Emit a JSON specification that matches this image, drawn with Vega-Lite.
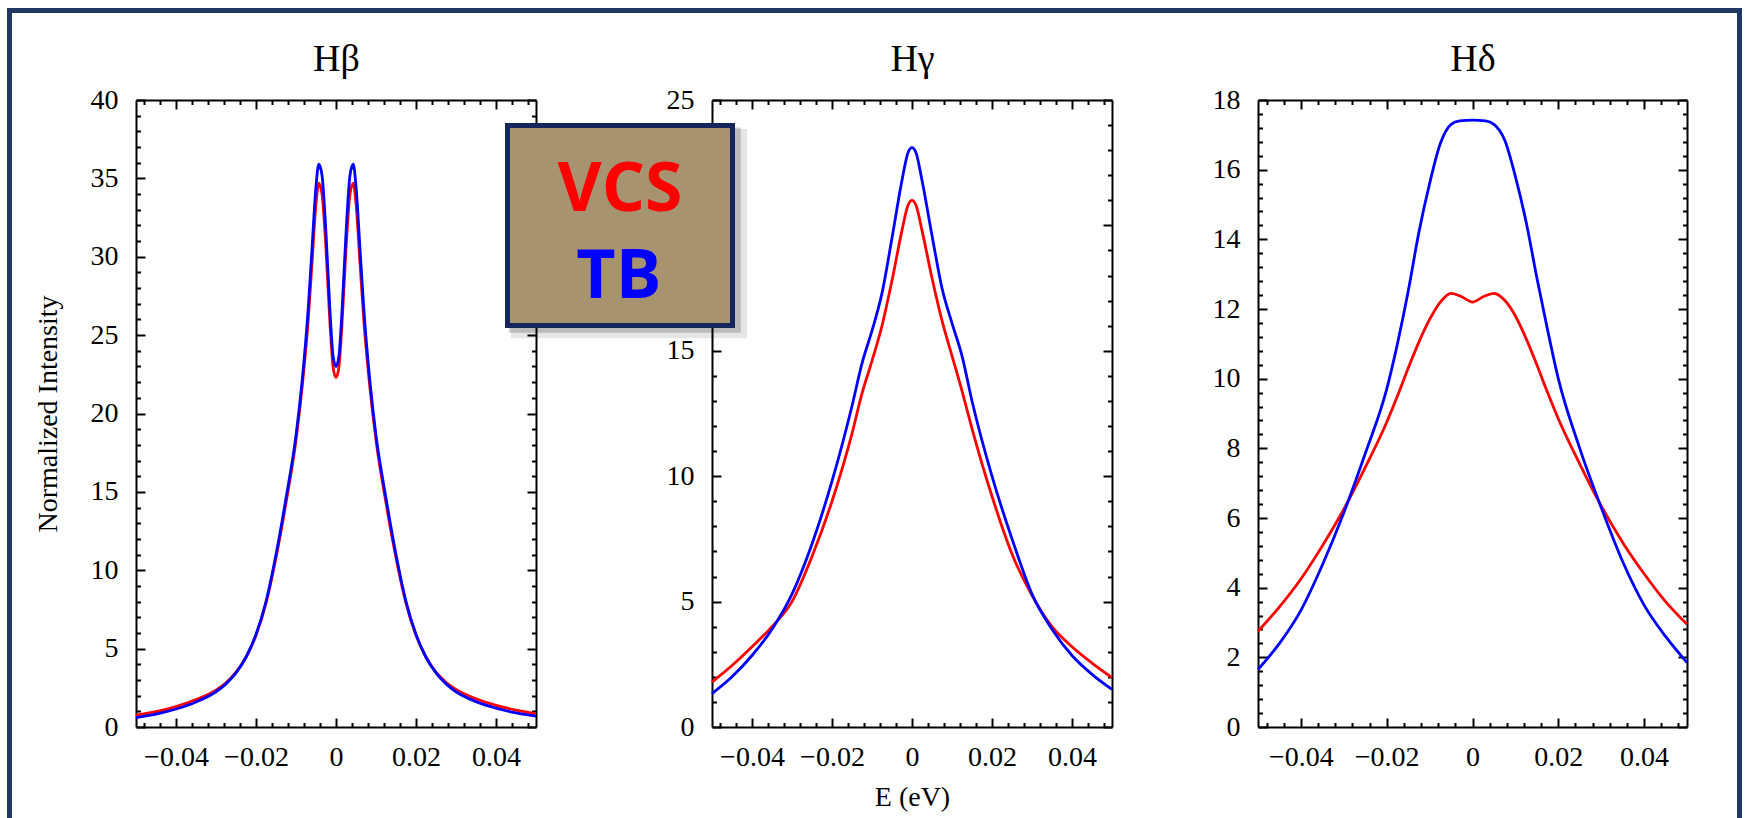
{
  "$schema": "https://vega.github.io/schema/vega-lite/v6.json",
  "background": "white",
  "padding": {"left": 7, "top": 7, "right": 6, "bottom": 0},
  "datasets": {
    "hb": [
      {"m":"VCS","E":-0.05,"I":0.75},{"m":"VCS","E":-0.045,"I":0.98},{"m":"VCS","E":-0.04,"I":1.3},{"m":"VCS","E":-0.035,"I":1.75},{"m":"VCS","E":-0.03,"I":2.35},{"m":"VCS","E":-0.0275,"I":2.82},{"m":"VCS","E":-0.025,"I":3.5},{"m":"VCS","E":-0.0225,"I":4.45},{"m":"VCS","E":-0.02,"I":5.85},{"m":"VCS","E":-0.0175,"I":7.9},{"m":"VCS","E":-0.015,"I":10.8},{"m":"VCS","E":-0.0125,"I":14.3},{"m":"VCS","E":-0.01,"I":18.3},{"m":"VCS","E":-0.0085,"I":21.6},{"m":"VCS","E":-0.007,"I":25.8},{"m":"VCS","E":-0.006,"I":29.6},{"m":"VCS","E":-0.005,"I":33.4},{"m":"VCS","E":-0.0043,"I":34.7},{"m":"VCS","E":-0.0035,"I":34.0},{"m":"VCS","E":-0.0025,"I":30.5},{"m":"VCS","E":-0.0015,"I":25.7},{"m":"VCS","E":-0.0007,"I":22.9},{"m":"VCS","E":0,"I":22.3},
      {"m":"VCS","E":0.0007,"I":22.9},{"m":"VCS","E":0.0015,"I":25.7},{"m":"VCS","E":0.0025,"I":30.5},{"m":"VCS","E":0.0035,"I":34.0},{"m":"VCS","E":0.0043,"I":34.7},{"m":"VCS","E":0.005,"I":33.4},{"m":"VCS","E":0.006,"I":29.6},{"m":"VCS","E":0.007,"I":25.8},{"m":"VCS","E":0.0085,"I":21.6},{"m":"VCS","E":0.01,"I":18.3},{"m":"VCS","E":0.0125,"I":14.3},{"m":"VCS","E":0.015,"I":10.8},{"m":"VCS","E":0.0175,"I":7.9},{"m":"VCS","E":0.02,"I":5.85},{"m":"VCS","E":0.0225,"I":4.45},{"m":"VCS","E":0.025,"I":3.5},{"m":"VCS","E":0.0275,"I":2.85},{"m":"VCS","E":0.03,"I":2.4},{"m":"VCS","E":0.035,"I":1.8},{"m":"VCS","E":0.04,"I":1.38},{"m":"VCS","E":0.045,"I":1.08},{"m":"VCS","E":0.05,"I":0.85},
      {"m":"TB","E":-0.05,"I":0.6},{"m":"TB","E":-0.045,"I":0.82},{"m":"TB","E":-0.04,"I":1.15},{"m":"TB","E":-0.035,"I":1.6},{"m":"TB","E":-0.03,"I":2.25},{"m":"TB","E":-0.0275,"I":2.75},{"m":"TB","E":-0.025,"I":3.45},{"m":"TB","E":-0.0225,"I":4.45},{"m":"TB","E":-0.02,"I":5.9},{"m":"TB","E":-0.0175,"I":8.0},{"m":"TB","E":-0.015,"I":11.0},{"m":"TB","E":-0.0125,"I":14.6},{"m":"TB","E":-0.01,"I":18.6},{"m":"TB","E":-0.0085,"I":22.0},{"m":"TB","E":-0.007,"I":26.5},{"m":"TB","E":-0.006,"I":30.5},{"m":"TB","E":-0.005,"I":34.5},{"m":"TB","E":-0.0043,"I":35.9},{"m":"TB","E":-0.0035,"I":35.2},{"m":"TB","E":-0.0025,"I":31.5},{"m":"TB","E":-0.0015,"I":26.5},{"m":"TB","E":-0.0007,"I":23.6},{"m":"TB","E":0,"I":23.0},
      {"m":"TB","E":0.0007,"I":23.6},{"m":"TB","E":0.0015,"I":26.5},{"m":"TB","E":0.0025,"I":31.5},{"m":"TB","E":0.0035,"I":35.2},{"m":"TB","E":0.0043,"I":35.9},{"m":"TB","E":0.005,"I":34.5},{"m":"TB","E":0.006,"I":30.5},{"m":"TB","E":0.007,"I":26.5},{"m":"TB","E":0.0085,"I":22.0},{"m":"TB","E":0.01,"I":18.6},{"m":"TB","E":0.0125,"I":14.6},{"m":"TB","E":0.015,"I":11.0},{"m":"TB","E":0.0175,"I":8.0},{"m":"TB","E":0.02,"I":5.9},{"m":"TB","E":0.0225,"I":4.45},{"m":"TB","E":0.025,"I":3.45},{"m":"TB","E":0.0275,"I":2.75},{"m":"TB","E":0.03,"I":2.25},{"m":"TB","E":0.035,"I":1.62},{"m":"TB","E":0.04,"I":1.2},{"m":"TB","E":0.045,"I":0.9},{"m":"TB","E":0.05,"I":0.7}
    ],
    "hg": [
      {"m":"VCS","E":-0.05,"I":1.79},{"m":"VCS","E":-0.045,"I":2.45},{"m":"VCS","E":-0.04,"I":3.2},{"m":"VCS","E":-0.035,"I":4.0},{"m":"VCS","E":-0.03,"I":5.0},{"m":"VCS","E":-0.025,"I":6.8},{"m":"VCS","E":-0.02,"I":9.0},{"m":"VCS","E":-0.015,"I":11.7},{"m":"VCS","E":-0.0125,"I":13.3},{"m":"VCS","E":-0.01,"I":14.6},{"m":"VCS","E":-0.0075,"I":16.0},{"m":"VCS","E":-0.005,"I":17.8},{"m":"VCS","E":-0.0025,"I":19.8},{"m":"VCS","E":-0.001,"I":20.8},{"m":"VCS","E":0,"I":21.0},
      {"m":"VCS","E":0.001,"I":20.8},{"m":"VCS","E":0.0025,"I":19.8},{"m":"VCS","E":0.005,"I":17.9},{"m":"VCS","E":0.0075,"I":16.2},{"m":"VCS","E":0.01,"I":14.8},{"m":"VCS","E":0.0125,"I":13.4},{"m":"VCS","E":0.015,"I":11.9},{"m":"VCS","E":0.02,"I":9.2},{"m":"VCS","E":0.025,"I":6.9},{"m":"VCS","E":0.03,"I":5.25},{"m":"VCS","E":0.035,"I":4.0},{"m":"VCS","E":0.04,"I":3.2},{"m":"VCS","E":0.045,"I":2.55},{"m":"VCS","E":0.05,"I":1.97},
      {"m":"TB","E":-0.05,"I":1.33},{"m":"TB","E":-0.045,"I":2.0},{"m":"TB","E":-0.04,"I":2.85},{"m":"TB","E":-0.035,"I":3.9},{"m":"TB","E":-0.03,"I":5.3},{"m":"TB","E":-0.025,"I":7.3},{"m":"TB","E":-0.02,"I":9.8},{"m":"TB","E":-0.015,"I":12.8},{"m":"TB","E":-0.0125,"I":14.5},{"m":"TB","E":-0.01,"I":15.8},{"m":"TB","E":-0.0075,"I":17.3},{"m":"TB","E":-0.005,"I":19.5},{"m":"TB","E":-0.0025,"I":21.8},{"m":"TB","E":-0.001,"I":22.9},{"m":"TB","E":0,"I":23.1},
      {"m":"TB","E":0.001,"I":22.9},{"m":"TB","E":0.0025,"I":21.8},{"m":"TB","E":0.005,"I":19.6},{"m":"TB","E":0.0075,"I":17.5},{"m":"TB","E":0.01,"I":16.1},{"m":"TB","E":0.0125,"I":14.8},{"m":"TB","E":0.015,"I":13.0},{"m":"TB","E":0.02,"I":10.0},{"m":"TB","E":0.025,"I":7.5},{"m":"TB","E":0.03,"I":5.3},{"m":"TB","E":0.035,"I":3.9},{"m":"TB","E":0.04,"I":2.85},{"m":"TB","E":0.045,"I":2.1},{"m":"TB","E":0.05,"I":1.5}
    ],
    "hd": [
      {"m":"VCS","E":-0.05,"I":2.75},{"m":"VCS","E":-0.045,"I":3.45},{"m":"VCS","E":-0.04,"I":4.25},{"m":"VCS","E":-0.035,"I":5.2},{"m":"VCS","E":-0.03,"I":6.25},{"m":"VCS","E":-0.025,"I":7.45},{"m":"VCS","E":-0.02,"I":8.75},{"m":"VCS","E":-0.0175,"I":9.5},{"m":"VCS","E":-0.015,"I":10.3},{"m":"VCS","E":-0.0125,"I":11.05},{"m":"VCS","E":-0.01,"I":11.7},{"m":"VCS","E":-0.0075,"I":12.2},{"m":"VCS","E":-0.005,"I":12.45},{"m":"VCS","E":-0.0025,"I":12.35},{"m":"VCS","E":0,"I":12.2},
      {"m":"VCS","E":0.0025,"I":12.35},{"m":"VCS","E":0.005,"I":12.45},{"m":"VCS","E":0.0075,"I":12.25},{"m":"VCS","E":0.01,"I":11.8},{"m":"VCS","E":0.0125,"I":11.15},{"m":"VCS","E":0.015,"I":10.4},{"m":"VCS","E":0.0175,"I":9.6},{"m":"VCS","E":0.02,"I":8.85},{"m":"VCS","E":0.025,"I":7.55},{"m":"VCS","E":0.03,"I":6.35},{"m":"VCS","E":0.035,"I":5.3},{"m":"VCS","E":0.04,"I":4.4},{"m":"VCS","E":0.045,"I":3.6},{"m":"VCS","E":0.05,"I":2.95},
      {"m":"TB","E":-0.05,"I":1.65},{"m":"TB","E":-0.045,"I":2.4},{"m":"TB","E":-0.04,"I":3.35},{"m":"TB","E":-0.035,"I":4.65},{"m":"TB","E":-0.03,"I":6.15},{"m":"TB","E":-0.025,"I":7.85},{"m":"TB","E":-0.02,"I":9.7},{"m":"TB","E":-0.0175,"I":11.0},{"m":"TB","E":-0.015,"I":12.5},{"m":"TB","E":-0.0125,"I":14.2},{"m":"TB","E":-0.01,"I":15.6},{"m":"TB","E":-0.0075,"I":16.75},{"m":"TB","E":-0.005,"I":17.3},{"m":"TB","E":-0.003,"I":17.4},{"m":"TB","E":0,"I":17.42},
      {"m":"TB","E":0.003,"I":17.4},{"m":"TB","E":0.005,"I":17.3},{"m":"TB","E":0.0075,"I":16.85},{"m":"TB","E":0.01,"I":15.8},{"m":"TB","E":0.0125,"I":14.5},{"m":"TB","E":0.015,"I":12.9},{"m":"TB","E":0.0175,"I":11.4},{"m":"TB","E":0.02,"I":10.0},{"m":"TB","E":0.025,"I":8.0},{"m":"TB","E":0.03,"I":6.3},{"m":"TB","E":0.035,"I":4.75},{"m":"TB","E":0.04,"I":3.5},{"m":"TB","E":0.045,"I":2.6},{"m":"TB","E":0.05,"I":1.85}
    ]
  },
  "spacing": 176,
  "bounds": "flush",
  "hconcat": [
    {
      "width": 400, "height": 627,
      "data": {"name": "hb"},
      "resolve": {"axis": {"x": "independent", "y": "independent"}},
      "layer": [
        {
          "mark": {"type": "line", "interpolate": "monotone", "strokeWidth": 2.8},
          "encoding": {
            "x": {"field": "E", "type": "quantitative", "scale": {"domain": [-0.05, 0.05], "nice": false, "zero": false},
                  "axis": {"orient": "bottom", "values": [-0.04,-0.02,0,0.02,0.04], "format": "~g", "tickSize": -9, "labelPadding": 25, "domain": true, "title": null}},
            "y": {"field": "I", "type": "quantitative", "scale": {"domain": [0, 40], "nice": false, "zero": false},
                  "axis": {"orient": "left", "values": [0,5,10,15,20,25,30,35,40], "format": "d", "tickSize": -9, "labelPadding": 27, "domain": true, "title": "Normalized Intensity", "titlePadding": 28, "titleFontSize": 28}},
            "color": {"field": "m", "type": "nominal", "scale": {"domain": ["VCS", "TB"], "range": ["#ff0000", "#0000ff"]}, "legend": null}
          }
        },
        {
          "mark": {"type": "point", "opacity": 0},
          "encoding": {
            "x": {"field": "E", "type": "quantitative", "axis": {"orient": "bottom", "values": [-0.048,-0.044,-0.036,-0.032,-0.028,-0.024,-0.016,-0.012,-0.008,-0.004,0.004,0.008,0.012,0.016,0.024,0.028,0.032,0.036,0.044,0.048], "tickSize": -4.5, "labels": false, "domain": false, "title": null}},
            "y": {"field": "I", "type": "quantitative", "axis": {"orient": "left", "values": [1,2,3,4,6,7,8,9,11,12,13,14,16,17,18,19,21,22,23,24,26,27,28,29,31,32,33,34,36,37,38,39], "tickSize": -4.5, "labels": false, "domain": false, "title": null}}
          }
        },
        {
          "mark": {"type": "point", "opacity": 0},
          "encoding": {
            "x": {"field": "E", "type": "quantitative", "axis": {"orient": "top", "values": [-0.04,-0.02,0,0.02,0.04], "tickSize": -9, "labels": false, "domain": true, "title": "Hβ", "titleFontSize": 38, "titlePadding": 21}},
            "y": {"field": "I", "type": "quantitative", "axis": {"orient": "right", "values": [0,5,10,15,20,25,30,35,40], "tickSize": -9, "labels": false, "domain": true, "title": null}}
          }
        },
        {
          "mark": {"type": "point", "opacity": 0},
          "encoding": {
            "x": {"field": "E", "type": "quantitative", "axis": {"orient": "top", "values": [-0.048,-0.044,-0.036,-0.032,-0.028,-0.024,-0.016,-0.012,-0.008,-0.004,0.004,0.008,0.012,0.016,0.024,0.028,0.032,0.036,0.044,0.048], "tickSize": -4.5, "labels": false, "domain": false, "title": null}},
            "y": {"field": "I", "type": "quantitative", "axis": {"orient": "right", "values": [1,2,3,4,6,7,8,9,11,12,13,14,16,17,18,19,21,22,23,24,26,27,28,29,31,32,33,34,36,37,38,39], "tickSize": -4.5, "labels": false, "domain": false, "title": null}}
          }
        },
        {
          "data": {"values": [{}]},
          "mark": {"type": "rect", "fill": null, "filled": false, "stroke": "#1f3864", "strokeWidth": 5},
          "encoding": {
            "x": {"datum": -0.081625, "type": "quantitative", "axis": null},
            "x2": {"datum": 0.350875},
            "y": {"datum": 45.71, "type": "quantitative", "axis": null},
            "y2": {"datum": -6.6}
          }
        }
      ]
    },
    {
      "spacing": 146,
      "bounds": "flush",
      "hconcat": [
        {
          "width": 400, "height": 627,
          "data": {"name": "hg"},
          "resolve": {"axis": {"x": "independent", "y": "independent"}},
          "layer": [
            {
              "mark": {"type": "line", "interpolate": "monotone", "strokeWidth": 2.8},
              "encoding": {
                "x": {"field": "E", "type": "quantitative", "scale": {"domain": [-0.05, 0.05], "nice": false, "zero": false},
                      "axis": {"orient": "bottom", "values": [-0.04,-0.02,0,0.02,0.04], "format": "~g", "tickSize": -9, "labelPadding": 25, "domain": true, "title": "E (eV)", "titlePadding": 12}},
                "y": {"field": "I", "type": "quantitative", "scale": {"domain": [0, 25], "nice": false, "zero": false},
                      "axis": {"orient": "left", "values": [0,5,10,15,20,25], "format": "d", "tickSize": -9, "labelPadding": 27, "domain": true, "title": null}},
                "color": {"field": "m", "type": "nominal", "scale": {"domain": ["VCS", "TB"], "range": ["#ff0000", "#0000ff"]}, "legend": null}
              }
            },
            {
              "mark": {"type": "point", "opacity": 0},
              "encoding": {
                "x": {"field": "E", "type": "quantitative", "axis": {"orient": "bottom", "values": [-0.048,-0.044,-0.036,-0.032,-0.028,-0.024,-0.016,-0.012,-0.008,-0.004,0.004,0.008,0.012,0.016,0.024,0.028,0.032,0.036,0.044,0.048], "tickSize": -4.5, "labels": false, "domain": false, "title": null}},
                "y": {"field": "I", "type": "quantitative", "axis": {"orient": "left", "values": [1,2,3,4,6,7,8,9,11,12,13,14,16,17,18,19,21,22,23,24], "tickSize": -4.5, "labels": false, "domain": false, "title": null}}
              }
            },
            {
              "mark": {"type": "point", "opacity": 0},
              "encoding": {
                "x": {"field": "E", "type": "quantitative", "axis": {"orient": "top", "values": [-0.04,-0.02,0,0.02,0.04], "tickSize": -9, "labels": false, "domain": true, "title": "Hγ", "titleFontSize": 38, "titlePadding": 21}},
                "y": {"field": "I", "type": "quantitative", "axis": {"orient": "right", "values": [0,5,10,15,20,25], "tickSize": -9, "labels": false, "domain": true, "title": null}}
              }
            },
            {
              "mark": {"type": "point", "opacity": 0},
              "encoding": {
                "x": {"field": "E", "type": "quantitative", "axis": {"orient": "top", "values": [-0.048,-0.044,-0.036,-0.032,-0.028,-0.024,-0.016,-0.012,-0.008,-0.004,0.004,0.008,0.012,0.016,0.024,0.028,0.032,0.036,0.044,0.048], "tickSize": -4.5, "labels": false, "domain": false, "title": null}},
                "y": {"field": "I", "type": "quantitative", "axis": {"orient": "right", "values": [1,2,3,4,6,7,8,9,11,12,13,14,16,17,18,19,21,22,23,24], "tickSize": -4.5, "labels": false, "domain": false, "title": null}}
              }
            },
            {
              "data": {"values": [{}]},
              "mark": {"type": "rect", "fill": "#000000", "opacity": 0.1},
              "encoding": {
                "x": {"datum": -0.10025, "type": "quantitative", "axis": null},
                "x2": {"datum": -0.04125},
                "y": {"datum": 23.84, "type": "quantitative", "axis": null},
                "y2": {"datum": 15.5}
              }
            },
            {
              "data": {"values": [{}]},
              "mark": {"type": "rect", "fill": "#000000", "opacity": 0.18},
              "encoding": {
                "x": {"datum": -0.1008, "type": "quantitative", "axis": null},
                "x2": {"datum": -0.0428},
                "y": {"datum": 23.9, "type": "quantitative", "axis": null},
                "y2": {"datum": 15.72}
              }
            },
            {
              "data": {"values": [{}]},
              "mark": {"type": "rect", "fill": "#a89370", "stroke": "#15275a", "strokeWidth": 5},
              "encoding": {
                "x": {"datum": -0.101125, "type": "quantitative", "axis": null},
                "x2": {"datum": -0.044875},
                "y": {"datum": 23.983, "type": "quantitative", "axis": null},
                "y2": {"datum": 16.009}
              }
            },
            {
              "data": {"values": [{"label": "VCS"}]},
              "mark": {"type": "text", "font": "Open Sans", "fontWeight": "bold", "fontSize": 68, "color": "#ff0000", "align": "center", "baseline": "alphabetic"},
              "encoding": {
                "text": {"field": "label"},
                "x": {"datum": -0.073, "type": "quantitative", "axis": null},
                "y": {"datum": 20.574, "type": "quantitative", "axis": null}
              }
            },
            {
              "data": {"values": [{"label": "TB"}]},
              "mark": {"type": "text", "font": "Open Sans", "fontWeight": "bold", "fontSize": 68, "color": "#0000ff", "align": "center", "baseline": "alphabetic"},
              "encoding": {
                "text": {"field": "label"},
                "x": {"datum": -0.0733, "type": "quantitative", "axis": null},
                "y": {"datum": 17.105, "type": "quantitative", "axis": null}
              }
            }
          ]
        },
        {
          "width": 429, "height": 627,
          "data": {"name": "hd"},
          "resolve": {"axis": {"x": "independent", "y": "independent"}},
          "layer": [
            {
              "mark": {"type": "line", "interpolate": "monotone", "strokeWidth": 2.8},
              "encoding": {
                "x": {"field": "E", "type": "quantitative", "scale": {"domain": [-0.05, 0.05], "nice": false, "zero": false},
                      "axis": {"orient": "bottom", "values": [-0.04,-0.02,0,0.02,0.04], "format": "~g", "tickSize": -9, "labelPadding": 25, "domain": true, "title": null}},
                "y": {"field": "I", "type": "quantitative", "scale": {"domain": [0, 18], "nice": false, "zero": false},
                      "axis": {"orient": "left", "values": [0,2,4,6,8,10,12,14,16,18], "format": "d", "tickSize": -9, "labelPadding": 27, "domain": true, "title": null}},
                "color": {"field": "m", "type": "nominal", "scale": {"domain": ["VCS", "TB"], "range": ["#ff0000", "#0000ff"]}, "legend": null}
              }
            },
            {
              "mark": {"type": "point", "opacity": 0},
              "encoding": {
                "x": {"field": "E", "type": "quantitative", "axis": {"orient": "bottom", "values": [-0.048,-0.044,-0.036,-0.032,-0.028,-0.024,-0.016,-0.012,-0.008,-0.004,0.004,0.008,0.012,0.016,0.024,0.028,0.032,0.036,0.044,0.048], "tickSize": -4.5, "labels": false, "domain": false, "title": null}},
                "y": {"field": "I", "type": "quantitative", "axis": {"orient": "left", "values": [0.4,0.8,1.2,1.6,2.4,2.8,3.2,3.6,4.4,4.8,5.2,5.6,6.4,6.8,7.2,7.6,8.4,8.8,9.2,9.6,10.4,10.8,11.2,11.6,12.4,12.8,13.2,13.6,14.4,14.8,15.2,15.6,16.4,16.8,17.2,17.6], "tickSize": -4.5, "labels": false, "domain": false, "title": null}}
              }
            },
            {
              "mark": {"type": "point", "opacity": 0},
              "encoding": {
                "x": {"field": "E", "type": "quantitative", "axis": {"orient": "top", "values": [-0.04,-0.02,0,0.02,0.04], "tickSize": -9, "labels": false, "domain": true, "title": "Hδ", "titleFontSize": 38, "titlePadding": 21}},
                "y": {"field": "I", "type": "quantitative", "axis": {"orient": "right", "values": [0,2,4,6,8,10,12,14,16,18], "tickSize": -9, "labels": false, "domain": true, "title": null}}
              }
            },
            {
              "mark": {"type": "point", "opacity": 0},
              "encoding": {
                "x": {"field": "E", "type": "quantitative", "axis": {"orient": "top", "values": [-0.048,-0.044,-0.036,-0.032,-0.028,-0.024,-0.016,-0.012,-0.008,-0.004,0.004,0.008,0.012,0.016,0.024,0.028,0.032,0.036,0.044,0.048], "tickSize": -4.5, "labels": false, "domain": false, "title": null}},
                "y": {"field": "I", "type": "quantitative", "axis": {"orient": "right", "values": [0.4,0.8,1.2,1.6,2.4,2.8,3.2,3.6,4.4,4.8,5.2,5.6,6.4,6.8,7.2,7.6,8.4,8.8,9.2,9.6,10.4,10.8,11.2,11.6,12.4,12.8,13.2,13.6,14.4,14.8,15.2,15.6,16.4,16.8,17.2,17.6], "tickSize": -4.5, "labels": false, "domain": false, "title": null}}
              }
            }
          ]
        }
      ]
    }
  ],
  "config": {
    "view": {"stroke": null},
    "font": "Liberation Serif",
    "axis": {
      "grid": false,
      "labelFont": "Liberation Serif", "labelFontSize": 28, "labelColor": "black",
      "titleFont": "Liberation Serif", "titleFontSize": 28, "titleFontWeight": "normal", "titleColor": "black",
      "tickColor": "black", "tickWidth": 2, "domainColor": "black", "domainWidth": 2,
      "labelFlush": false, "labelOverlap": false
    }
  }
}
